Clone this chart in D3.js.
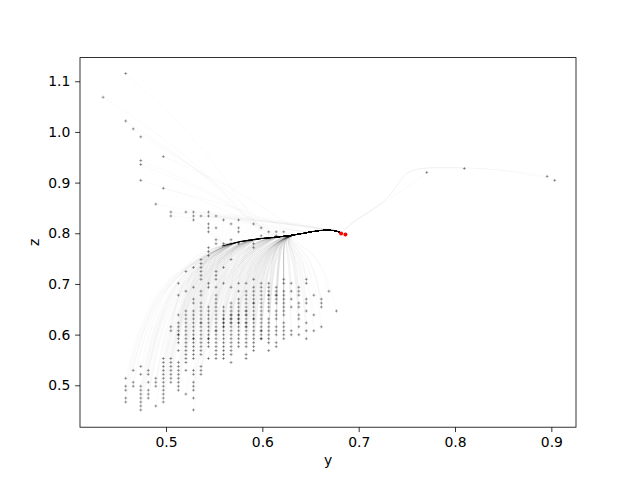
<!DOCTYPE html>
<html><head><meta charset="utf-8">
<script src="https://cdn.jsdelivr.net/npm/d3@7"></script>
<style>body{margin:0;background:#fff}svg{display:block}text{font-family:"DejaVu Sans",sans-serif;fill:#000}</style>
</head><body><svg id="c" width="640" height="480"></svg>
<script>
// ---- data ----
// the start points sit on a regular grid: value = origin + index * step
const GRID_Y0 = 0.4972, GRID_Z0 = 0.4513, GRID_STEP = 0.0078125;
// [column index, [row indices]]
const gridCols = [
  [-8,[79]],
  [-5,[85,73,8,6,5,3,2]],
  [-4,[71,10,7,6]],
  [-3,[69,63,62,58,11,9,6,5,4,3,2,1,0]],
  [-2,[10,9,7,5,4,3]],
  [-1,[52,8,7,6,1]],
  [0,[64,56,13,12,11,10,9,8,7,6,5,4,3,2]],
  [1,[50,49,21,20,13,12,11,10,9,8,7]],
  [2,[32,29,24,22,21,20,19,18,17,15,12,11,10,9,8,7,6,5]],
  [3,[50,35,30,25,24,23,22,21,20,19,18,17,16,15,14,13,12,10,4]],
  [4,[50,49,48,36,31,28,27,25,24,23,22,21,20,19,18,17,16,15,14,13,10,9,7,6,5,3,0]],
  [5,[49,38,37,36,35,34,33,30,29,27,26,25,24,23,22,21,20,19,18,17,16,15,14,11,10,9]],
  [6,[50,49,47,46,45,41,40,39,32,31,26,25,24,23,22,21,20,19,18,17,16,13]],
  [7,[49,46,43,42,35,34,33,31,29,28,27,26,25,24,23,22,21,20,19,18,17,16,15,14,13]],
  [8,[48,42,36,32,26,25,24,23,22,21,20,19,18,17,16,15,14,13]],
  [9,[47,43,42,38,31,27,26,25,24,23,22,21,20,19,18,17,16,15,14,12]],
  [10,[48,46,45,42,32,30,28,27,26,25,24,23,22,21,20,19,18,17,16]],
  [11,[32,30,29,28,27,26,25,24,23,22,21,20,19,18,17,16,14,13]],
  [12,[47,42,41,33,31,30,29,28,27,26,25,24,23,22,21,20,19,18,17,16,15]],
  [13,[46,44,32,31,30,29,28,27,26,25,24,23,22,21,20,19,18]],
  [14,[45,32,31,30,29,28,27,26,25,23,22,21,20,19,18,17,15]],
  [15,[45,44,31,30,29,28,27,25,24,23,21,20,19,17,16]],
  [16,[45,33,32,30,29,28,27,26,25,24,22,21,20,19,18]],
  [17,[32,30,28,26,20,19]],
  [18,[31,30,29,27,26,24,23,21,19]],
  [19,[33,32,28,27,25,22,20,18]],
  [20,[29,24,20]],
  [21,[28,27,26,21]],
  [22,[30]],
  [23,[25]],
  [35,[60]],
  [40,[61]],
  [51,[59]],
  [52,[58]]
];
// grid cells holding more than one start point (drawn darker)
const stackedPts = [[8,21],[8,22],[8,23],[9,22],[9,23],[9,24],[10,22],[10,24],[11,21],[11,22],[11,24],[11,25],
  [12,23],[12,27],[13,18],[13,20],[14,29],[15,29],[4,18],[2,19],[6,18],[7,20],[5,22],[10,23]];
// common (mean) path the trajectories converge onto
const meanPathY = [0.5582,0.5769,0.5977,0.6184,0.6392,0.6548,0.6652,0.6735,0.6787,0.6829];
const meanPathZ = [0.7749,0.7838,0.7897,0.7927,0.7986,0.8045,0.8065,0.8059,0.8035,0.7996];
// route taken by the far right starts
const arcRouteY = [0.8537,0.8086,0.7671,0.7464,0.7325,0.7014,0.6841];
const arcRouteZ = [0.9249,0.9302,0.9302,0.9216,0.8658,0.8327,0.8065];
// red end points
const endY = [0.6817,0.6862];
const endZ = [0.7996,0.7978];
const xTicks = [0.5,0.6,0.7,0.8,0.9];
const yTicks = [0.5,0.6,0.7,0.8,0.9,1.0,1.1];

// ---- drawing ----
const L=80,R=576,T=57.6,B=427.2;
const svg = d3.select("#c");
const x = d3.scaleLinear().domain([0.4107,0.9256]).range([L,R]);
const y = d3.scaleLinear().domain([0.4173,1.1467]).range([B,T]);

const pts = [];
gridCols.forEach(([c,rs]) => rs.forEach(r => pts.push({c, r, y: GRID_Y0 + c*GRID_STEP, z: GRID_Z0 + r*GRID_STEP})));
stackedPts.forEach(([c,r]) => pts.push({c, r, y: GRID_Y0 + c*GRID_STEP, z: GRID_Z0 + r*GRID_STEP}));

const mean = meanPathY.map((v,i)=>[v, meanPathZ[i]]);
const arc = arcRouteY.map((v,i)=>[v, arcRouteZ[i]]);
const zOnMean = d3.scaleLinear().domain(meanPathY).range(meanPathZ).clamp(true);

function traj(p){
  const S=[p.y,p.z];
  if (p.y > 0.74) {
    if (p.y > 0.78) return [S, ...arc.filter(a=>a[0] < S[0]-0.01), ...mean.slice(-1)];
    return [S, ...arc.slice(4), ...mean.slice(-1)];
  }
  let jx;
  if (p.z > 0.83) jx = Math.min(0.672, Math.max(0.6, p.y + 0.14));
  else jx = Math.min(0.622, Math.max(0.558, p.y + 0.05 - 0.3*(p.z - 0.6)));
  const J = [jx, zOnMean(jx)];
  const Bp = p.z < J[1]
    ? [S[0]+0.25*(J[0]-S[0]), S[1]+0.72*(J[1]-S[1])]
    : [S[0]+0.6*(J[0]-S[0]), S[1]+0.45*(J[1]-S[1])];
  return [S, Bp, J, ...mean.filter(m => m[0] > jx + 0.004)];
}

svg.append("defs").append("clipPath").attr("id","clip")
  .append("rect").attr("x",L).attr("y",T).attr("width",R-L).attr("height",B-T);

const line = d3.line().x(d=>x(d[0])).y(d=>y(d[1])).curve(d3.curveBasis);
const g = svg.append("g").attr("clip-path","url(#clip)");
g.append("g").selectAll("path").data(pts).join("path")
  .attr("d", p => line(traj(p)))
  .attr("fill","none").attr("stroke","#000").attr("stroke-opacity",0.042).attr("stroke-width",0.6);

g.append("g").selectAll("path").data(pts).join("path")
  .attr("transform", p => `translate(${x(p.y)},${y(p.z)})`)
  .attr("d","M-1.5,0H1.5M0,-1.5V1.5")
  .attr("stroke","#000").attr("stroke-opacity",0.38).attr("stroke-width",0.9);

g.append("path").attr("d", d3.line().x(d=>x(d[0])).y(d=>y(d[1]))(mean))
  .attr("fill","none").attr("stroke","#000").attr("stroke-width",1);

g.append("g").selectAll("circle").data(endY.map((v,i)=>[v,endZ[i]])).join("circle")
  .attr("cx", d=>x(d[0])).attr("cy", d=>y(d[1])).attr("r",2).attr("fill","#ff0000");

// axes
const fs = 13.9;
const xa = svg.append("g").attr("transform",`translate(0,${B})`)
  .call(d3.axisBottom(x).tickValues(xTicks).tickFormat(d3.format(".1f")).tickSize(4.86).tickPadding(4.86));
const ya = svg.append("g").attr("transform",`translate(${L},0)`)
  .call(d3.axisLeft(y).tickValues(yTicks).tickFormat(d3.format(".1f")).tickSize(4.86).tickPadding(4.86));
[xa,ya].forEach(a=>{
  a.select(".domain").remove();
  a.selectAll(".tick line").attr("stroke","#000").attr("stroke-width",0.8);
  a.selectAll(".tick text").attr("font-size",fs).attr("font-family","DejaVu Sans").attr("fill","#000");
});
svg.append("rect").attr("x",L).attr("y",T).attr("width",R-L).attr("height",B-T)
  .attr("fill","none").attr("stroke","#000").attr("stroke-width",0.8);

svg.append("text").attr("x",(L+R)/2).attr("y",465).attr("text-anchor","middle").attr("font-size",fs).text("y");
svg.append("text").attr("transform",`translate(38.5,${(T+B)/2}) rotate(-90)`).attr("text-anchor","middle").attr("font-size",fs).text("z");
</script></body></html>
